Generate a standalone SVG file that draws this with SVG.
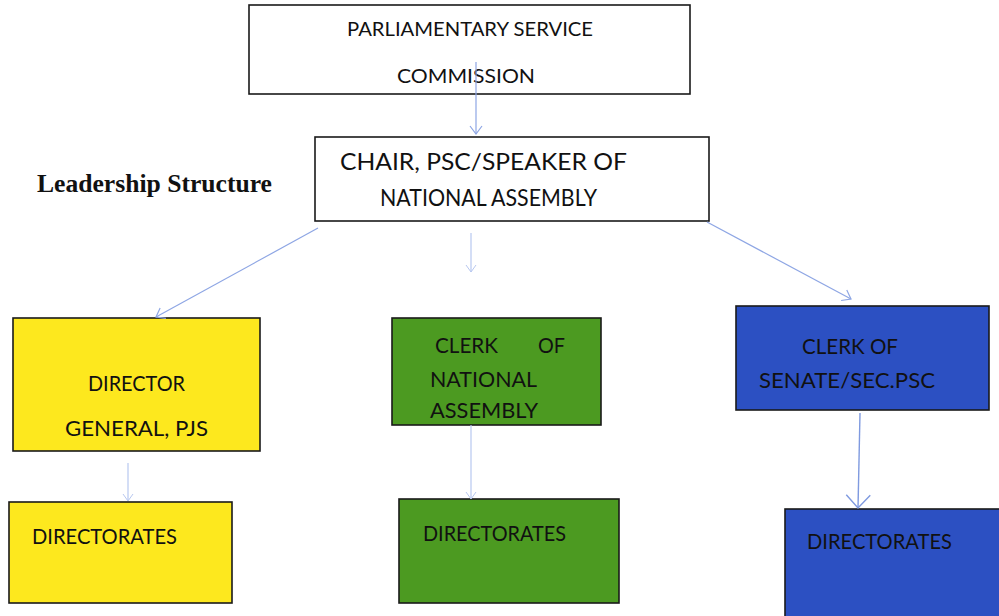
<svg xmlns="http://www.w3.org/2000/svg" width="999" height="616" viewBox="0 0 999 616">
<style>
.box{stroke:#1a1a1a;stroke-width:1.6}
.w{fill:#ffffff}
.y{fill:#fde81e}
.g{fill:#4c9a21}
.b{fill:#2c50c2}
.t{font-family:Lato,"Open Sans","Liberation Sans",sans-serif;fill:#111;}
.c{fill:none;stroke:#8ea6e4;stroke-width:1.2}
</style>
<defs>
<marker id="ah" markerUnits="userSpaceOnUse" markerWidth="20" markerHeight="20" viewBox="-10 -10 20 20" refX="0" refY="0" orient="auto">
<path d="M-8,-6 L0,0 L-8,6" fill="none" stroke="#8ea6e4" stroke-width="1.2"/>
</marker>
<marker id="ahs" markerUnits="userSpaceOnUse" markerWidth="20" markerHeight="20" viewBox="-10 -10 20 20" refX="0" refY="0" orient="auto">
<path d="M-7,-5 L0,0 L-7,5" fill="none" stroke="#b8c8f0" stroke-width="1"/>
</marker>
<marker id="ahl" markerUnits="userSpaceOnUse" markerWidth="30" markerHeight="30" viewBox="-15 -15 30 30" refX="0" refY="0" orient="auto">
<path d="M-13,-12 L0,0 L-13,12" fill="none" stroke="#7f9ae0" stroke-width="1.4"/>
</marker>
</defs>
<text x="37" y="192" font-family="'Liberation Serif','Times New Roman',serif" font-weight="bold" font-size="25" fill="#111" textLength="235" lengthAdjust="spacingAndGlyphs">Leadership Structure</text>
<g id="psc">
<rect class="box w" x="249" y="5" width="441" height="89"/>
<text class="t" x="347" y="36" font-size="20" textLength="246" lengthAdjust="spacingAndGlyphs">PARLIAMENTARY SERVICE</text>
<text class="t" x="397" y="83" font-size="20" textLength="138" lengthAdjust="spacingAndGlyphs">COMMISSION</text>
</g>
<g id="chair">
<rect class="box w" x="315" y="137" width="394" height="84"/>
<text class="t" x="340" y="170" font-size="23" textLength="287" lengthAdjust="spacingAndGlyphs">CHAIR, PSC/SPEAKER OF</text>
<text class="t" x="380" y="206" font-size="23" textLength="217" lengthAdjust="spacingAndGlyphs">NATIONAL ASSEMBLY</text>
</g>
<g id="dg">
<rect class="box y" x="13" y="318" width="247" height="133"/>
<text class="t" x="88" y="391" font-size="22" textLength="97" lengthAdjust="spacingAndGlyphs">DIRECTOR</text>
<text class="t" x="65" y="436" font-size="22" textLength="143" lengthAdjust="spacingAndGlyphs">GENERAL, PJS</text>
</g>
<g id="clerk-na">
<rect class="box g" x="392" y="318" width="209" height="107"/>
<text class="t" x="435" y="353" font-size="22" textLength="63" lengthAdjust="spacingAndGlyphs">CLERK</text>
<text class="t" x="538" y="353" font-size="22" textLength="27" lengthAdjust="spacingAndGlyphs">OF</text>
<text class="t" x="430" y="387" font-size="22" textLength="107" lengthAdjust="spacingAndGlyphs">NATIONAL</text>
<text class="t" x="430" y="418" font-size="22" textLength="108" lengthAdjust="spacingAndGlyphs">ASSEMBLY</text>
</g>
<g id="clerk-senate">
<rect class="box b" x="736" y="306" width="253" height="104"/>
<text class="t" x="802" y="354" font-size="22" textLength="96" lengthAdjust="spacingAndGlyphs">CLERK OF</text>
<text class="t" x="759" y="388" font-size="22" textLength="176" lengthAdjust="spacingAndGlyphs">SENATE/SEC.PSC</text>
</g>
<g id="dir-y">
<rect class="box y" x="9" y="502" width="223" height="101"/>
<text class="t" x="32" y="544" font-size="22" textLength="145" lengthAdjust="spacingAndGlyphs">DIRECTORATES</text>
</g>
<g id="dir-g">
<rect class="box g" x="399" y="499" width="220" height="104"/>
<text class="t" x="423" y="541" font-size="22" textLength="143" lengthAdjust="spacingAndGlyphs">DIRECTORATES</text>
</g>
<g id="dir-b">
<rect class="box b" x="785" y="509" width="220" height="112"/>
<text class="t" x="807" y="549" font-size="22" textLength="145" lengthAdjust="spacingAndGlyphs">DIRECTORATES</text>
</g>
<g id="connectors">
<line class="c" x1="476" y1="62" x2="476" y2="134" marker-end="url(#ah)"/>
<line class="c" x1="318" y1="228" x2="156" y2="317" marker-end="url(#ah)"/>
<line class="c" x1="471" y1="233" x2="471" y2="272" marker-end="url(#ahs)" style="stroke:#b8c8f0"/>
<line class="c" x1="707" y1="222" x2="851" y2="299" marker-end="url(#ah)"/>
<line class="c" x1="128" y1="463" x2="128" y2="501" marker-end="url(#ahs)" style="stroke:#b8c8f0"/>
<line class="c" x1="471" y1="425" x2="471" y2="499" marker-end="url(#ahs)" style="stroke:#b8c8f0"/>
<line class="c" x1="860" y1="413" x2="858" y2="508" marker-end="url(#ahl)" style="stroke:#7f9ae0;stroke-width:1.4"/>
</g>
</svg>
